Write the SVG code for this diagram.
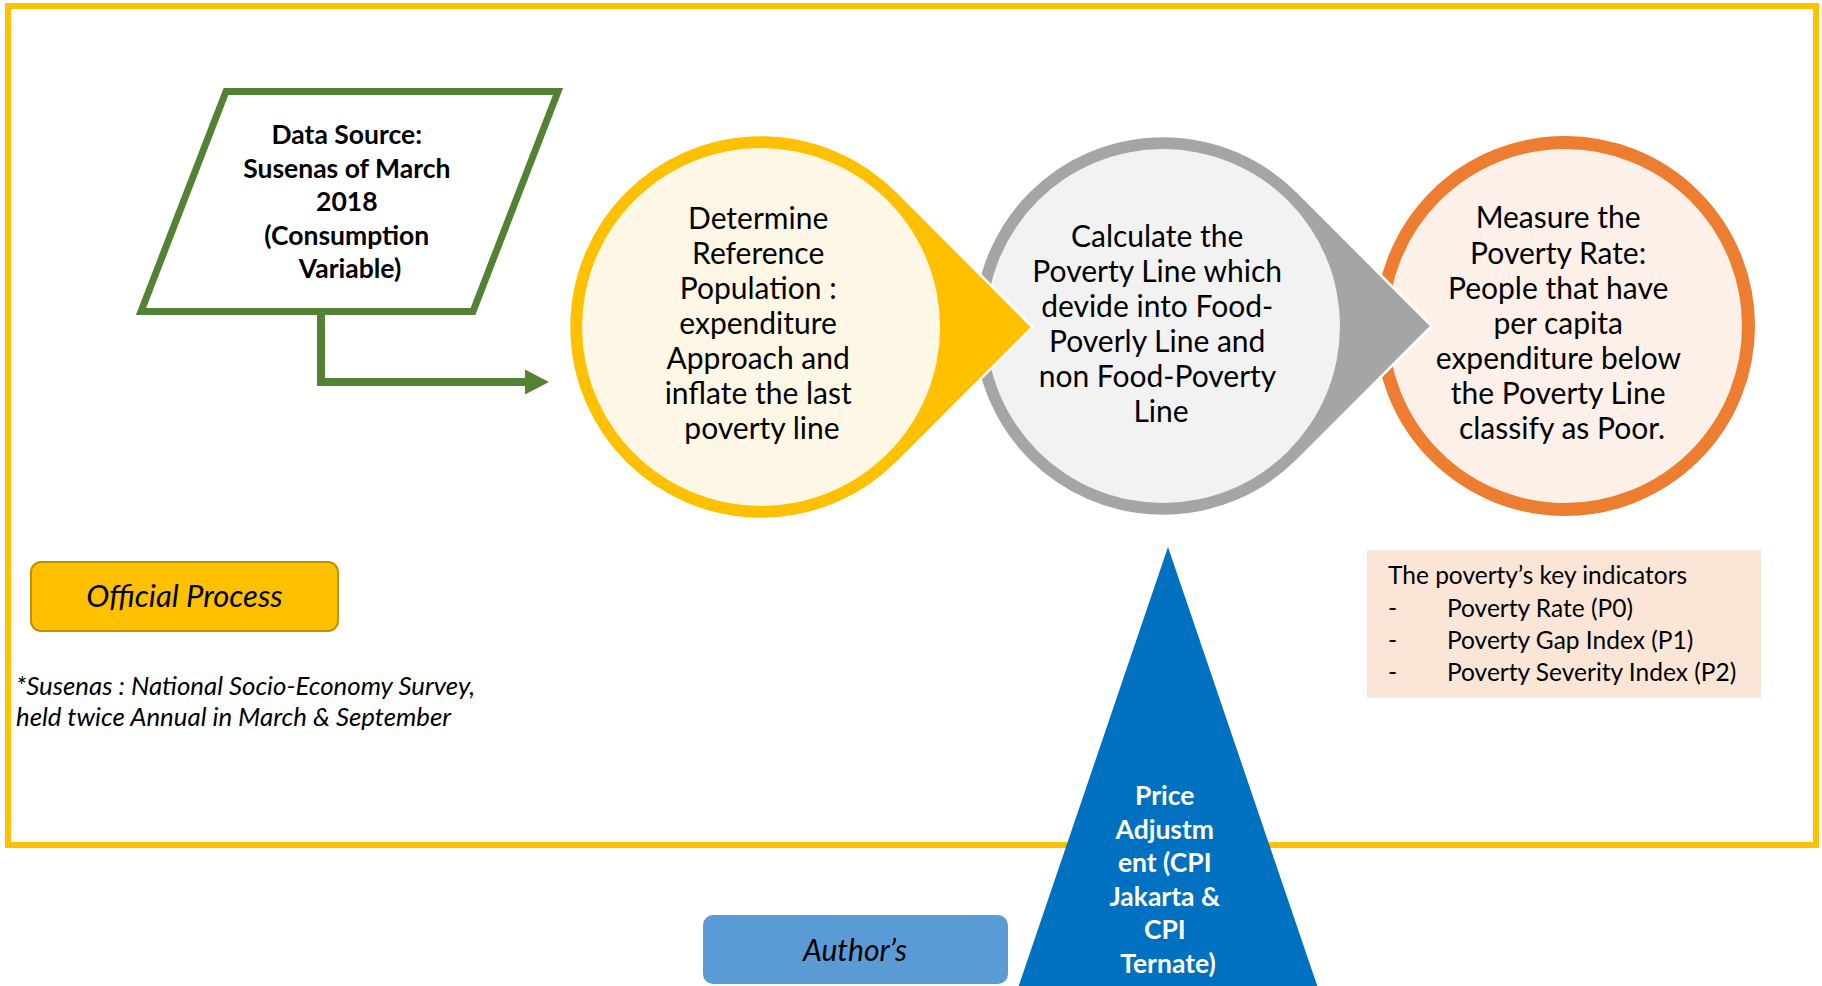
<svg xmlns="http://www.w3.org/2000/svg" width="1822" height="986" viewBox="0 0 1822 986">
  <style>
    .txt { font-family: Lato, "Open Sans", "Liberation Sans", sans-serif; fill: #000; }
    .circle-label { font-size: 30px; text-anchor: middle; }
    .bold { font-weight: bold; }
    .ital { font-style: italic; }
    .tip-outline { stroke: #FFFFFF; stroke-width: 2.5; stroke-linejoin: miter; }
  </style>
  <defs>
    <marker id="arrow-green" markerUnits="userSpaceOnUse" viewBox="0 0 24 25" markerWidth="24" markerHeight="25" refX="1" refY="12.5" orient="auto">
      <path d="M0,0 L24,12.5 L0,25 Z" fill="#548235"/>
    </marker>
  </defs>

  <rect width="1822" height="986" fill="#FFFFFF"/>

  <!-- outer frame around the official process -->
  <rect id="frame" x="8" y="6" width="1808" height="839" fill="none" stroke="#FFC000" stroke-width="6"/>

  <!-- step 3: measure the poverty rate -->
  <g id="node-measure">
    <circle cx="1565" cy="326" r="183.5" fill="#FDF0E9" stroke="#ED7D31" stroke-width="13"/>
    <text class="txt circle-label" x="1562">
      <tspan x="1562" y="228">Measure the</tspan>
      <tspan x="1562" y="264">Poverty Rate:</tspan>
      <tspan x="1562" y="299">People that have</tspan>
      <tspan x="1562" y="334">per capita</tspan>
      <tspan x="1562" y="369">expenditure below</tspan>
      <tspan x="1562" y="404">the Poverty Line</tspan>
      <tspan x="1562" y="439">classify as Poor.</tspan>
    </text>
  </g>

  <!-- step 2: calculate the poverty line -->
  <g id="node-calculate">
    <path class="tip-outline" d="M1431.7,326 L1297.35,460.35 A190,190 0 1 1 1297.35,191.65 Z" fill="#A5A5A5"/>
    <circle cx="1163" cy="326" r="177" fill="#F2F2F2"/>
    <text class="txt circle-label">
      <tspan x="1161" y="247">Calculate the</tspan>
      <tspan x="1161" y="282">Poverty Line which</tspan>
      <tspan x="1161" y="317">devide into Food-</tspan>
      <tspan x="1161" y="352">Poverly Line and</tspan>
      <tspan x="1161" y="387">non Food-Poverty</tspan>
      <tspan x="1161" y="422">Line</tspan>
    </text>
  </g>

  <!-- step 1: determine reference population -->
  <g id="node-reference">
    <path class="tip-outline" d="M1032.5,327 L896.8,462.8 A192,192 0 1 1 896.8,191.2 Z" fill="#FFC000"/>
    <circle cx="761" cy="327" r="179" fill="#FFF7E5"/>
    <text class="txt circle-label">
      <tspan x="762" y="229">Determine</tspan>
      <tspan x="762" y="264">Reference</tspan>
      <tspan x="762" y="299">Population :</tspan>
      <tspan x="762" y="334">expenditure</tspan>
      <tspan x="762" y="369">Approach and</tspan>
      <tspan x="762" y="404">inflate the last</tspan>
      <tspan x="762" y="439">poverty line</tspan>
    </text>
  </g>

  <!-- data source -->
  <g id="node-data-source">
    <path d="M226,91.5 L558,91.5 L473,311.5 L141,311.5 Z" fill="#FFFFFF" stroke="#548235" stroke-width="7" stroke-linejoin="miter"/>
    <text class="txt bold" font-size="26.5" text-anchor="middle">
      <tspan x="350" y="144">Data Source:</tspan>
      <tspan x="350" y="178">Susenas of March</tspan>
      <tspan x="350" y="211">2018</tspan>
      <tspan x="350" y="245">(Consumption</tspan>
      <tspan x="350" y="278">Variable)</tspan>
    </text>
  </g>

  <!-- connectors -->
  <g id="connectors">
    <path d="M321,315 V382 H526" fill="none" stroke="#548235" stroke-width="8" stroke-linejoin="miter" marker-end="url(#arrow-green)"/>
  </g>

  <!-- legend: official process -->
  <g id="legend-official">
    <rect x="31" y="562" width="307" height="69" rx="10" ry="10" fill="#FFC000" stroke="#BF9000" stroke-width="2"/>
    <text class="txt ital" x="184.5" y="607" font-size="31" text-anchor="middle">Official Process</text>
  </g>

  <!-- footnote -->
  <g id="footnote">
    <text class="txt ital" font-size="25.8">
      <tspan x="16" y="695">*Susenas : National Socio-Economy Survey,</tspan>
      <tspan x="16" y="726">held twice Annual in March &amp; September</tspan>
    </text>
  </g>

  <!-- key indicators -->
  <g id="node-indicators">
    <rect x="1367" y="550" width="394" height="148" fill="#FBE5D6"/>
    <text class="txt" font-size="24.5">
      <tspan x="1388" y="584">The poverty’s key indicators</tspan>
      <tspan x="1388" y="617">-</tspan>
      <tspan x="1447" y="617">Poverty Rate (P0)</tspan>
      <tspan x="1388" y="649">-</tspan>
      <tspan x="1447" y="649">Poverty Gap Index (P1)</tspan>
      <tspan x="1388" y="681">-</tspan>
      <tspan x="1447" y="681">Poverty Severity Index (P2)</tspan>
    </text>
  </g>

  <!-- price adjustment -->
  <g id="node-price-adjustment">
    <polygon points="1168,547 1318,988 1018,988" fill="#0070C0"/>
    <text class="txt bold" font-size="26.5" text-anchor="middle" style="fill:#FFFFFF">
      <tspan x="1168" y="805">Price</tspan>
      <tspan x="1168" y="838.5">Adjustm</tspan>
      <tspan x="1168" y="872">ent (CPI</tspan>
      <tspan x="1168" y="905.5">Jakarta &amp;</tspan>
      <tspan x="1168" y="939">CPI</tspan>
      <tspan x="1168" y="972.5">Ternate)</tspan>
    </text>
  </g>

  <!-- legend: author's -->
  <g id="legend-author">
    <rect x="703" y="915" width="305" height="69" rx="10" ry="10" fill="#5B9BD5"/>
    <text class="txt ital" x="855" y="961" font-size="30" text-anchor="middle">Author’s</text>
  </g>
</svg>
